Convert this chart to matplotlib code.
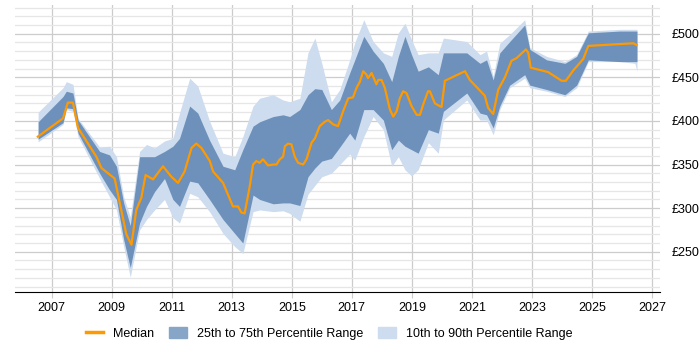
import matplotlib
matplotlib.use('Agg')
import matplotlib.pyplot as plt
from matplotlib.patches import Patch
from matplotlib.lines import Line2D
from matplotlib.ticker import MultipleLocator, FuncFormatter

plt.rcParams['font.family'] = ['Liberation Sans', 'DejaVu Sans']

# percentile bands (shared x points)
band_years = [2006.55, 2007.38, 2007.49, 2007.71, 2007.88, 2008.6, 2008.93, 2009.16, 2009.4, 2009.62,
              2009.93, 2010.16, 2010.43, 2010.76, 2011.04, 2011.26, 2011.6, 2011.87, 2012.26, 2012.71,
              2013.1, 2013.37, 2013.71, 2013.93, 2014.38, 2014.71, 2014.93, 2015.27, 2015.54, 2015.77,
              2016.0, 2016.32, 2016.6, 2016.93, 2017.1, 2017.4, 2017.71, 2018.05, 2018.33, 2018.55,
              2018.77, 2018.99, 2019.21, 2019.55, 2019.88, 2020.05, 2020.83, 2021.27, 2021.49, 2021.71,
              2021.93, 2022.26, 2022.76, 2022.93, 2023.49, 2024.1, 2024.49, 2024.88, 2025.93, 2026.43,
              2026.5]
p90 = [410, 438, 445, 442, 403, 370, 371, 359, 313, 290,
       365, 373, 369, 377, 380, 409, 449, 440, 400, 363,
       359, 382, 417, 426, 430, 424, 422, 426, 478, 495,
       466, 422, 436, 470, 490, 516, 491, 478, 474, 501,
       512, 493, 476, 478, 478, 495, 491, 476, 480, 451,
       489, 499, 516, 484, 474, 468, 476, 503, 505, 505,
       505]
p75 = [399, 428, 434, 432, 401, 365, 361, 348, 306, 280,
       359, 359, 359, 365, 371, 380, 417, 409, 378, 348,
       344, 367, 394, 399, 405, 407, 405, 413, 430, 437,
       436, 413, 424, 455, 470, 497, 480, 466, 445, 474,
       497, 476, 457, 462, 453, 478, 478, 466, 470, 447,
       478, 491, 510, 482, 470, 466, 474, 501, 503, 503,
       503]
p25 = [379, 398, 415, 414, 386, 340, 321, 310, 264, 232,
       283, 302, 319, 334, 310, 302, 331, 329, 310, 287,
       271, 260, 315, 310, 305, 306, 306, 303, 336, 346,
       354, 357, 370, 386, 378, 413, 413, 401, 367, 378,
       371, 367, 363, 390, 386, 411, 432, 409, 407, 392,
       417, 441, 453, 441, 436, 430, 441, 470, 468, 468,
       468]
p10 = [376, 396, 413, 411, 382, 334, 313, 298, 256, 221,
       275, 287, 298, 310, 289, 283, 317, 313, 296, 271,
       256, 248, 296, 298, 296, 297, 294, 285, 316, 326,
       336, 340, 350, 362, 355, 382, 405, 390, 348, 359,
       344, 337, 344, 375, 363, 401, 424, 401, 401, 384,
       413, 438, 449, 438, 434, 428, 438, 468, 468, 466,
       457]

# median line
med_years = [2006.54, 2007.38, 2007.54, 2007.71, 2007.88, 2008.49, 2008.66, 2009.1, 2009.27, 2009.49,
             2009.66, 2009.82, 2009.99, 2010.13, 2010.38, 2010.71, 2010.99, 2011.21, 2011.43, 2011.66,
             2011.82, 2011.99, 2012.27, 2012.38, 2012.71, 2013.04, 2013.21, 2013.32, 2013.43, 2013.6,
             2013.71, 2013.82, 2013.93, 2014.04, 2014.21, 2014.38, 2014.49, 2014.6, 2014.71, 2014.77,
             2014.88, 2014.99, 2015.1, 2015.21, 2015.38, 2015.49, 2015.66, 2015.77, 2015.93, 2016.1,
             2016.21, 2016.38, 2016.54, 2016.71, 2016.88, 2017.04, 2017.16, 2017.27, 2017.38, 2017.49,
             2017.54, 2017.66, 2017.82, 2017.88, 2017.99, 2018.1, 2018.27, 2018.38, 2018.49, 2018.6,
             2018.71, 2018.82, 2018.99, 2019.16, 2019.27, 2019.38, 2019.54, 2019.6, 2019.77, 2019.93,
             2019.99, 2020.1, 2020.77, 2020.93, 2021.43, 2021.54, 2021.71, 2021.88, 2022.1, 2022.32,
             2022.49, 2022.8, 2022.88, 2022.96, 2023.54, 2023.99, 2024.13, 2024.38, 2024.71, 2024.88,
             2026.38, 2026.49]
median = [382, 403, 421, 421, 392, 359, 346, 334, 306, 270,
          258, 298, 312, 338, 333, 348, 336, 329, 342, 369,
          374, 369, 354, 342, 329, 302, 302, 295, 294, 325,
          350, 354, 352, 356, 349, 350, 350, 356, 359, 371,
          374, 373, 359, 352, 350, 356, 375, 380, 394, 399,
          401, 396, 394, 411, 426, 427, 438, 445, 457, 453,
          449, 455, 442, 447, 447, 438, 413, 405, 411, 426,
          434, 432, 417, 407, 407, 419, 434, 434, 420, 417,
          416, 446, 457, 447, 429, 415, 408, 436, 450, 469,
          472, 482, 478, 461, 456, 446, 446, 458, 471, 486,
          489, 487]

x_ticks = [2007, 2009, 2011, 2013, 2015, 2017, 2019, 2021, 2023, 2025, 2027]

dark = '#6d91ba'
light = '#cddcee'
orange = '#ff9900'

fig = plt.figure(figsize=(7, 3.5), dpi=100)
ax = fig.add_axes([0.021, 0.166, 0.922, 0.82])

ax.fill_between(band_years, p10, p90, color=light, lw=0, zorder=2)
ax.fill_between(band_years, p25, p75, color=dark, lw=0, zorder=3)
ax.plot(med_years, median, color=orange, lw=1.6, zorder=4)

ax.set_xlim(2005.77, 2027.27)
ax.set_ylim(204, 533)
ax.set_xticks(x_ticks)
ax.yaxis.set_major_locator(MultipleLocator(50))
ax.yaxis.set_minor_locator(MultipleLocator(10))
ax.yaxis.set_major_formatter(FuncFormatter(lambda v, p: '£%d' % v))
ax.yaxis.tick_right()

ax.grid(axis='y', which='major', color='#cccccc', lw=0.9, zorder=0)
ax.grid(axis='y', which='minor', color='#e6e6e6', lw=0.9, zorder=0)
ax.grid(axis='x', which='major', color='#cccccc', lw=0.9, zorder=0)
ax.set_axisbelow(True)

for s in ['top', 'right', 'left']:
    ax.spines[s].set_visible(False)
ax.spines['bottom'].set_color('black')
ax.tick_params(axis='y', which='both', length=0, labelsize=9, pad=8)
ax.tick_params(axis='x', length=4, color='#cccccc', labelsize=9)

handles = [Line2D([0], [0], color=orange, lw=2.5),
           Patch(color='#87a6c7'),
           Patch(color=light)]
labels = ['Median', '25th to 75th Percentile Range', '10th to 90th Percentile Range']
fig.legend(handles, labels, loc='center', bbox_to_anchor=(0.47, 0.047), ncol=3,
           frameon=False, fontsize=9, handlelength=1.4, handleheight=1.0, columnspacing=1.2)

fig.savefig('out.png', dpi=100)
